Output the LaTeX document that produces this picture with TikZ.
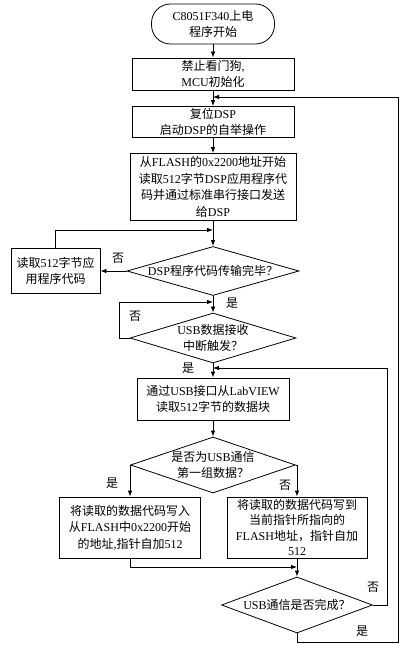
\documentclass[tikz,border=0pt]{standalone}
\usepackage{fontspec}
\setmainfont{Liberation Serif}
\newfontfamily\cjkfont{Noto Sans CJK SC}
\XeTeXinterchartokenstate=1
\newXeTeXintercharclass\cjkclass
\count255="4E00
\loop \XeTeXcharclass\count255=\cjkclass \advance\count255 by 1 \ifnum\count255<"A000 \repeat
\XeTeXcharclass"FF0C=\cjkclass
\XeTeXcharclass"FF1F=\cjkclass
\XeTeXinterchartoks 0 \cjkclass = {\begingroup\cjkfont}
\XeTeXinterchartoks 4095 \cjkclass = {\begingroup\cjkfont}
\XeTeXinterchartoks \cjkclass 0 = {\endgroup}
\XeTeXinterchartoks \cjkclass 4095 = {\endgroup}
\usetikzlibrary{shapes.geometric,arrows.meta}
\begin{document}
\begin{tikzpicture}[x=1pt,y=-1pt,line width=.8pt,
	every node/.style={font=\fontsize{12}{16.5}\selectfont},
	term/.style={draw,rounded corners=19pt,align=center,minimum width=123pt,minimum height=40pt,inner sep=0pt},
	block/.style={draw,align=center,inner sep=1pt},
	decide/.style={draw,diamond,align=center,inner sep=0pt},
	flow/.style={-{Latex[length=6pt,width=4.5pt]}}]

	\useasboundingbox (0,0) rectangle (405,650);

	\node[term] (start) at (213,24) {C8051F340上电\\程序开始};
	\node[block,minimum width=162pt,minimum height=32pt] (init) at (213,74) {禁止看门狗,\\MCU初始化};
	\node[block,minimum width=162pt,minimum height=31pt] (reset) at (213,122) {复位DSP\\启动DSP的自举操作};
	\node[block,minimum width=166pt,minimum height=67pt] (flash) at (213,187) {从FLASH的0x2200地址开始\\读取512字节DSP应用程序代\\码并通过标准串行接口发送\\给DSP};
	\node[decide,aspect=3.5,minimum width=172pt,minimum height=49pt] (d1) at (213,271) {DSP程序代码传输完毕？};
	\node[block,minimum width=89pt,minimum height=45pt] (readmore) at (55.5,271) {读取512字节应\\用程序代码};
	\node[decide,aspect=3.3,minimum width=166pt,minimum height=50pt] (d2) at (213,338) {USB数据接收\\中断触发？};
	\node[block,minimum width=152pt,minimum height=42pt] (usbread) at (213,399) {通过USB接口从LabVIEW\\读取512字节的数据块};
	\node[decide,aspect=2.95,minimum width=165pt,minimum height=56pt] (d3) at (213,465) {是否为USB通信\\第一组数据？};
	\node[block,minimum width=141pt,minimum height=61pt] (wfirst) at (130,527.5) {将读取的数据代码写入\\从FLASH中0x2200开始\\的地址,指针自加512};
	\node[block,minimum width=140pt,minimum height=61pt,inner sep=0pt,font=\fontsize{12}{15.5}\selectfont] (wnext) at (297,527.5) {将读取的数据代码写到\\当前指针所指向的\\FLASH地址，指针自加\\512};
	\node[decide,aspect=2.7,minimum width=151pt,minimum height=56pt] (d4) at (297,605) {USB通信是否完成？};

	\coordinate (j1) at (213,97);
	\coordinate (j2) at (213,230);
	\coordinate (j3) at (213,302);
	\coordinate (j4) at (213,368);
	\coordinate (j5) at (297,567);
	\coordinate (l2) at (119,338);
	\coordinate (r1) at (398,642);
	\coordinate (r2) at (387,605);

	\draw[flow] (start) -- (init);
	\draw[flow] (init) -- (reset);
	\draw[flow] (reset) -- (flash);
	\draw[flow] (flash) -- (d1);
	\draw[flow] (d1.west) -- (readmore.east);
	\draw[flow] (readmore.north) |- (j2);
	\draw[flow] (d1) -- (d2);
	\draw[flow] (d2.west) -- (l2) |- (j3);
	\draw[flow] (d2) -- (usbread);
	\draw[flow] (usbread) -- (d3);
	\draw[flow] (d3.west) -| (wfirst.north);
	\draw[flow] (d3.east) -| (wnext.north);
	\draw[flow] (wfirst.south) |- (j5);
	\draw[flow] (wnext) -- (d4);
	\draw[flow] (d4.east) -- (r2) |- (j4);
	\draw[flow] (d4.south) |- (r1) |- (j1);

	\node (no1) at (118,258) {否};
	\node (yes1) at (232,303) {是};
	\node (no2) at (135,316) {否};
	\node (yes2) at (188,368) {是};
	\node (yes3) at (112,483) {是};
	\node (no3) at (285,485) {否};
	\node (no4) at (373,587) {否};
	\node (yes4) at (362,631) {是};
\end{tikzpicture}
\end{document}
